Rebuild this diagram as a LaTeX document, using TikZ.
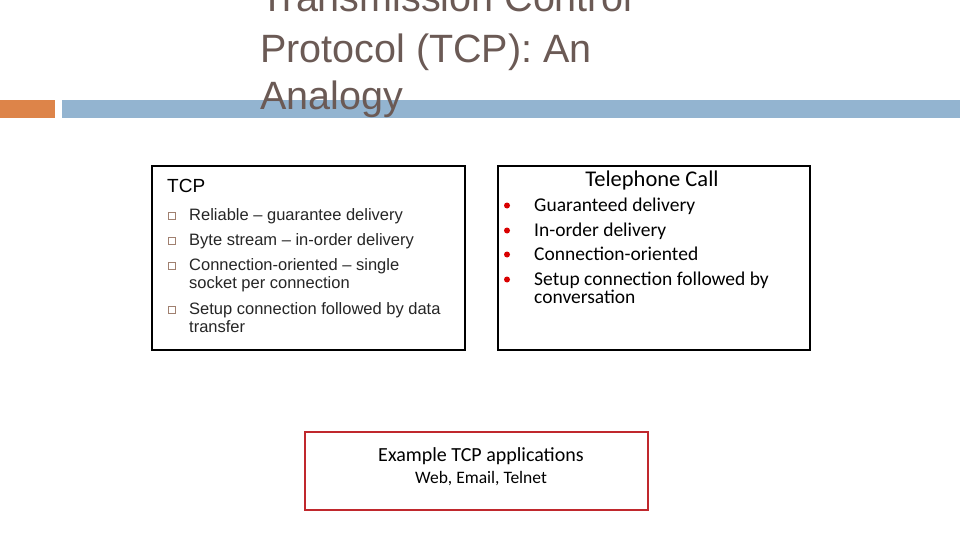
\documentclass[tikz,border=0pt]{standalone}
\usepackage{fontspec}
\setmainfont{Liberation Sans}
\newfontfamily\calfont{Carlito}
\definecolor{titc}{HTML}{6B5A55}
\definecolor{orng}{HTML}{DD8449}
\definecolor{blu}{HTML}{93B4D0}
\definecolor{redc}{HTML}{C0282D}
\definecolor{bulc}{HTML}{A08070}
\begin{document}
\begin{tikzpicture}[x=1pt,y=-1pt,
  box/.style={draw=black,line width=1.6pt},
  lt/.style={anchor=base west,font=\fontsize{16.5}{18}\selectfont,inner sep=0pt,text=black!85},
  rt/.style={anchor=base west,font=\calfont\fontsize{19.5}{18}\selectfont,inner sep=0pt},
  sq/.style={draw=bulc,line width=0.6pt,minimum size=7pt,inner sep=0pt},
  dot/.style={fill=red!85!black,circle,minimum size=6pt,inner sep=0pt},
  tt/.style={anchor=base west,inner sep=0pt,text=titc,font=\fontsize{39.5}{46}\selectfont}]
\useasboundingbox (0,0) rectangle (960,540);
\fill[white] (0,0) rectangle (960,540);
\fill[orng] (0,100) rectangle (55,118);
\fill[blu] (62,100) rectangle (960,118);
\node[tt] (t1) at (260,12) {Transmission Control};
\node[tt] (t2) at (260,63) {Protocol (TCP): An};
\node[tt] (t3) at (260,110) {Analogy};
\draw[box] (152,166) rectangle (465,350);
\draw[box] (498,166) rectangle (810,350);
\draw[redc,line width=1.4pt] (305,432) rectangle (648,510);
\node[anchor=base west,inner sep=0pt,font=\fontsize{19}{20}\selectfont] (tcp) at (167,193) {TCP};
\foreach \y/\t [count=\i] in {220/Reliable – guarantee delivery,245/Byte stream – in-order delivery,270/Connection-oriented – single,314/Setup connection followed by data}{
  \node[sq] (s\i) at (171.5,\y-4.5) {};
  \node[lt] (l\i) at (189,\y) {\t};
}
\node[lt] (l3b) at (189,288) {socket per connection};
\node[lt] (l4b) at (189,332) {transfer};
\node[anchor=base,inner sep=0pt,font=\calfont\fontsize{22.5}{22}\selectfont] (tel) at (652,186) {Telephone Call};
\foreach \y/\t [count=\i] in {211/Guaranteed delivery,236/In-order delivery,260/Connection-oriented,285/Setup connection followed by}{
  \node[dot] (d\i) at (507,\y-5.5) {};
  \node[rt] (r\i) at (534,\y) {\t};
}
\node[rt] (r4b) at (534,303) {conversation};
\node[anchor=base,inner sep=0pt,font=\calfont\fontsize{20}{20}\selectfont] (ex) at (481,461) {Example TCP applications};
\node[anchor=base,inner sep=0pt,font=\calfont\fontsize{17.5}{18}\selectfont] (ap) at (481,483) {Web, Email, Telnet};
\end{tikzpicture}
\end{document}
